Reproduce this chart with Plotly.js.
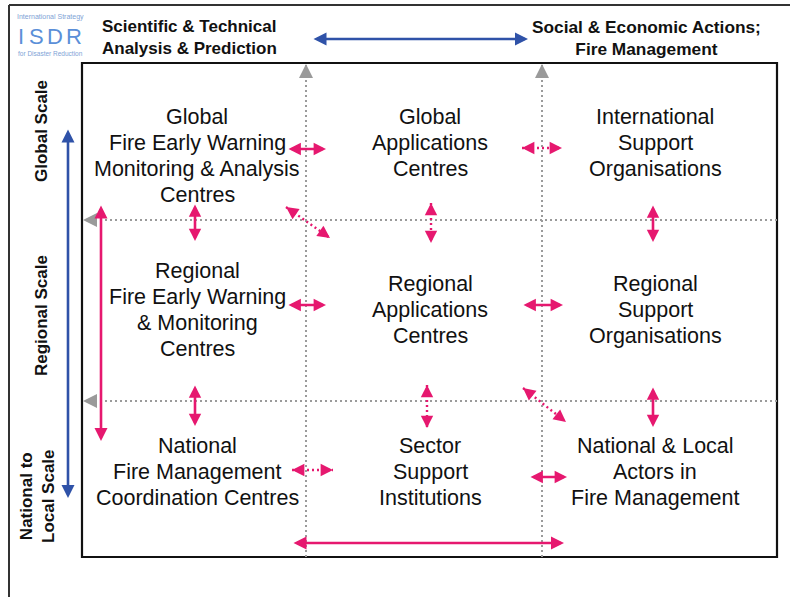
<!DOCTYPE html>
<html><head><meta charset="utf-8">
<script src="https://cdn.plot.ly/plotly-3.0.1.min.js"></script>
<style>html,body{margin:0;padding:0;background:#fff}</style>
</head><body><div id="chart" style="width:790px;height:597px"></div>
<script>
// ---- content ----
const headerLeft = ['Scientific & Technical', 'Analysis & Prediction'];
const headerRight = ['Social & Economic Actions;', 'Fire Management'];
const scaleLabels = ['Global Scale', 'Regional Scale', 'National to<br>Local Scale'];
const logoTop = 'International Strategy';
const logoLetters = ['I', 'S', 'D', 'R'];
const logoBottom = 'for Disaster Reduction';
const cellLines = [
  [['Global', 'Fire Early Warning', 'Monitoring & Analysis', 'Centres'],
   ['Global', 'Applications', 'Centres'],
   ['International', 'Support', 'Organisations']],
  [['Regional', 'Fire Early Warning', '& Monitoring', 'Centres'],
   ['Regional', 'Applications', 'Centres'],
   ['Regional', 'Support', 'Organisations']],
  [['National', 'Fire Management', 'Coordination Centres'],
   ['Sector', 'Support', 'Institutions'],
   ['National & Local', 'Actors in', 'Fire Management']]
];
// links between cells: [x1, y1, x2, y2]
const solidLinks = [
  [287, 149, 326, 149], [195, 203, 195, 241], [653, 204, 653, 242],
  [287, 305, 326, 305], [522, 305, 563, 305],
  [195, 384, 195, 426], [653, 386, 653, 427], [529, 477, 567, 477]
];
const dottedLinks = [
  [522, 148, 562, 148], [431, 203, 431, 243], [286, 207, 330, 238],
  [427, 385, 427, 428], [523, 388, 566, 422], [292, 470, 333, 470]
];
const scaleArrows = [ // [x1,y1,x2,y2,colourKey]
  [312, 39, 528, 39, 'blue'], [68, 128, 68, 498, 'blue'],
  [101, 204, 101, 441, 'pink'], [292, 543, 564, 543, 'pink']
];
const guideLines = [ // [tailX, tailY, tipX, tipY]
  [306, 557, 306, 64], [542, 557, 542, 64],
  [777, 220, 83, 220], [777, 401, 83, 401]
];

// ---- layout helpers ----
const colX = [197, 430, 655];
const C = {pink: '#e6186f', blue: '#2f52a8', gray: '#9a9a9a', text: '#111111'};
const FONT = 'Liberation Sans, Arial, sans-serif';
const annotations = [];
const shapes = [];

function txt(x, y, text, size, opts) {
  annotations.push(Object.assign({
    x: x, y: y, xref: 'x', yref: 'y', text: text, showarrow: false,
    xanchor: 'center', yanchor: 'middle',
    font: {family: FONT, size: size, color: C.text}
  }, opts || {}));
}
function head(tx, ty, fx, fy, color, width, size) {
  const dx = fx - tx, dy = fy - ty, L = Math.hypot(dx, dy);
  const len = 5 * width * size * 0.8;
  annotations.push({
    x: tx, y: ty, ax: tx + dx / L * len, ay: ty + dy / L * len,
    xref: 'x', yref: 'y', axref: 'x', ayref: 'y', text: '', showarrow: true,
    arrowhead: 2, arrowsize: size, arrowwidth: width, arrowcolor: color, standoff: 0, startstandoff: 0
  });
}
function solidDouble(a, color, width, size) {
  annotations.push({
    x: a[2], y: a[3], ax: a[0], ay: a[1],
    xref: 'x', yref: 'y', axref: 'x', ayref: 'y', text: '', showarrow: true,
    arrowhead: 2, startarrowhead: 2, arrowside: 'end+start',
    arrowsize: size, startarrowsize: size, arrowwidth: width, arrowcolor: color,
    standoff: 0, startstandoff: 0
  });
}
function line(x0, y0, x1, y1, color, width, dash) {
  shapes.push({type: 'line', xref: 'x', yref: 'y', x0: x0, y0: y0, x1: x1, y1: y1,
    line: {color: color, width: width, dash: dash || 'solid'}});
}

// frames
line(9, 5, 790, 5, '#333', 2);
line(9, 5, 9, 597, '#333', 2);
shapes.push({type: 'rect', xref: 'x', yref: 'y', x0: 82, y0: 63, x1: 777, y1: 557,
  line: {color: '#111', width: 2.2}});

// gray guides
guideLines.forEach(g => {
  line(g[0], g[1], g[2], g[3], C.gray, 2, '2px,3px');
  head(g[2], g[3], g[0], g[1], C.gray, 2, 1.4);
});

// scale arrows
scaleArrows.forEach(a => solidDouble(a, C[a[4]], 2.6, 1.0));

// cell links
solidLinks.forEach(a => solidDouble(a, C.pink, 2.6, 0.95));
dottedLinks.forEach(a => {
  line(a[0], a[1], a[2], a[3], C.pink, 2.4, '2px,3px');
  head(a[0], a[1], a[2], a[3], C.pink, 2.6, 0.95);
  head(a[2], a[3], a[0], a[1], C.pink, 2.6, 0.95);
});

// cell text
const rowAnchor = [117, 310, 472];
cellLines.forEach((row, r) => row.forEach((lines, c) => {
  const first = r === 0 ? rowAnchor[0] : rowAnchor[r] - (lines.length - 1) * 13;
  lines.forEach((t, i) => txt(colX[c], first + i * 26, t, 21.5));
}));

// headers
txt(100, 37.5, '<b>' + headerLeft.join('<br>') + '</b>', 17, {xanchor: 'left', align: 'left'});
txt(646, 37.5, '<b>' + headerRight.join('<br>') + '</b>', 17.3, {align: 'center'});

// scale labels
const scaleY = [131, 316, 496];
const scaleX = [41, 41, 37];
scaleLabels.forEach((s, i) => txt(scaleX[i], scaleY[i], '<b>' + s + '</b>', 17, {textangle: -90}));

// logo
txt(50, 17, logoTop, 7, {font: {family: FONT, size: 7, color: '#7ea3d6'}});
const logoX = [21, 36, 55, 74];
logoLetters.forEach((l, i) => txt(logoX[i], 36, l, 22, {font: {family: FONT, size: 22, color: '#5b8fd8'}}));
txt(50, 53, logoBottom, 6.5, {font: {family: FONT, size: 6.5, color: '#7ea3d6'}});

const layout = {
  width: 790, height: 597, autosize: false,
  margin: {l: 0, r: 0, t: 0, b: 0, pad: 0},
  paper_bgcolor: '#fff', plot_bgcolor: '#fff',
  xaxis: {range: [0, 790], visible: false, fixedrange: true},
  yaxis: {range: [597, 0], visible: false, fixedrange: true},
  showlegend: false,
  shapes: shapes, annotations: annotations
};
Plotly.newPlot('chart', [{x: [], y: [], type: 'scatter', mode: 'markers', hoverinfo: 'skip'}], layout,
  {staticPlot: true, displayModeBar: false});
</script>
</body></html>
